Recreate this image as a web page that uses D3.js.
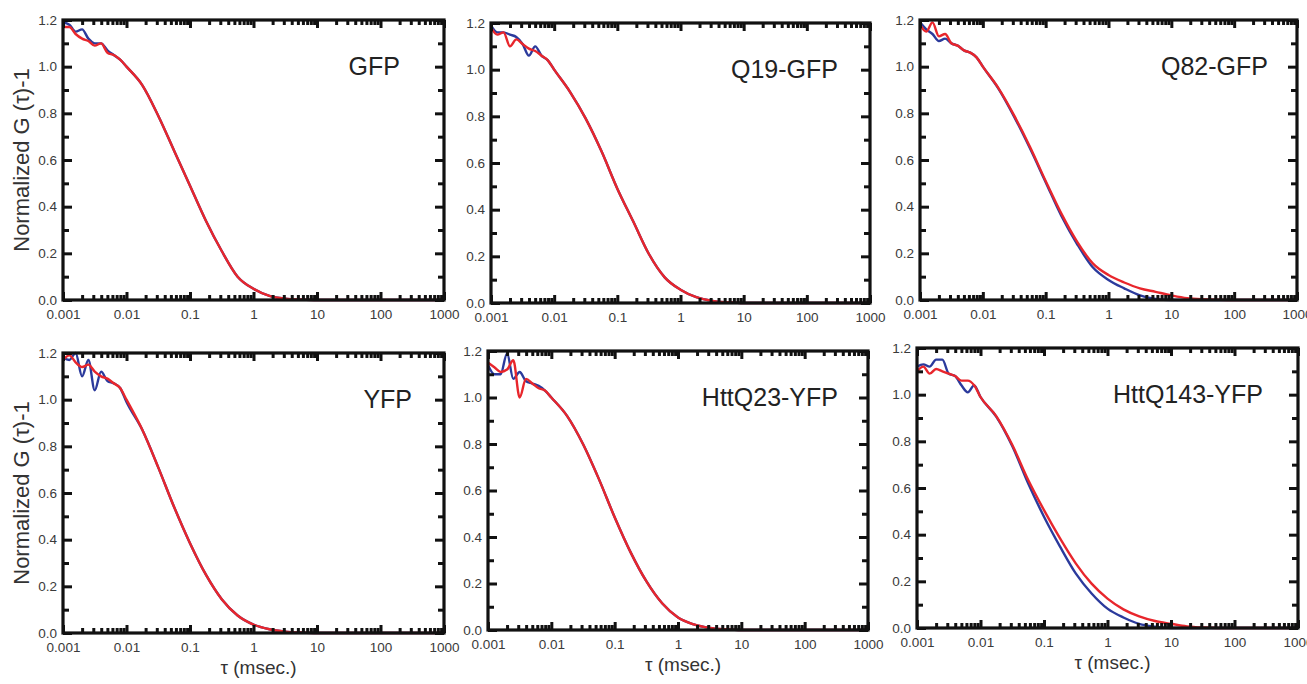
<!DOCTYPE html>
<html>
  <head>
    <title>FCS curves</title>
    <script src="https://cdnjs.cloudflare.com/ajax/libs/d3/7.8.5/d3.min.js"></script>
    <style>
      body { margin: 0; background: white; }
      text { font-family: Arial, "Liberation Sans", sans-serif; }
      .tick text { font-size: 13.5px; fill: #3a3a3a; }
    </style>
  </head>
  <body>
    <script>
      let width = 1307, height = 684;

      // lag times (msec), shared by every series
      let tau = [0.001, 0.00126, 0.00158, 0.002, 0.00251, 0.00316, 0.00398, 0.00501, 0.00631, 0.00794,
                 0.01, 0.0178, 0.0316, 0.0562, 0.1, 0.178, 0.316, 0.562, 1, 1.78, 3.16, 5.62,
                 10, 17.8, 31.6, 56.2, 100, 178, 316, 562, 1000];

      let names = ["GFP", "Q19-GFP", "Q82-GFP", "YFP", "HttQ23-YFP", "HttQ143-YFP"];

      let gfpBlue = [1.19,1.18,1.15,1.16,1.12,1.10,1.10,1.07,1.05,1.03, 1.00,0.92,0.79,0.64,0.49,0.34,0.21,0.10,0.048,0.018,0.006,0.002, 0,0,0,0,0,0,0,0,0];
      let gfpRed  = [1.17,1.17,1.14,1.12,1.11,1.09,1.10,1.06,1.05,1.03, 1.00,0.92,0.79,0.64,0.49,0.34,0.21,0.10,0.048,0.018,0.006,0.002, 0,0,0,0,0,0,0,0,0];

      let q19Blue = [1.19,1.16,1.16,1.15,1.14,1.11,1.06,1.10,1.06,1.04, 1.00,0.905,0.79,0.65,0.49,0.35,0.21,0.11,0.057,0.025,0.009,0.003, 0,0,0,0,0,0,0,0,0];
      let q19Red  = [1.18,1.15,1.16,1.10,1.13,1.11,1.09,1.08,1.06,1.04, 1.00,0.905,0.79,0.65,0.49,0.35,0.21,0.11,0.057,0.025,0.009,0.003, 0,0,0,0,0,0,0,0,0];

      let q82Blue = [1.19,1.16,1.14,1.11,1.12,1.10,1.09,1.07,1.06,1.04, 1.00,0.905,0.785,0.65,0.505,0.36,0.24,0.14,0.086,0.05,0.02,0.005, 0,0,0,0,0,0,0,0,0];
      let q82Red  = [1.18,1.15,1.19,1.13,1.14,1.10,1.09,1.07,1.06,1.04, 1.00,0.907,0.79,0.657,0.51,0.37,0.25,0.157,0.107,0.075,0.05,0.035, 0.02,0.008,0.003,0.001,0,0,0,0,0];

      let yfpBlue = [1.18,1.17,1.20,1.10,1.17,1.04,1.12,1.08,1.07,1.05, 0.99,0.87,0.71,0.54,0.385,0.25,0.145,0.075,0.036,0.016,0.006,0.002, 0,0,0,0,0,0,0,0,0];
      let yfpRed  = [1.17,1.19,1.16,1.14,1.15,1.12,1.10,1.09,1.07,1.05, 1.00,0.87,0.71,0.54,0.385,0.25,0.145,0.075,0.036,0.016,0.006,0.002, 0,0,0,0,0,0,0,0,0];

      let q23Blue = [1.14,1.10,1.10,1.19,1.08,1.11,1.07,1.06,1.05,1.03, 1.00,0.92,0.80,0.65,0.485,0.335,0.21,0.115,0.054,0.024,0.009,0.003, 0,0,0,0,0,0,0,0,0];
      let q23Red  = [1.15,1.13,1.11,1.12,1.16,1.00,1.08,1.06,1.04,1.03, 1.00,0.92,0.80,0.65,0.485,0.335,0.21,0.115,0.054,0.024,0.009,0.003, 0,0,0,0,0,0,0,0,0];

      let q143Blue = [1.12,1.13,1.12,1.15,1.15,1.09,1.08,1.04,1.01,1.04, 0.99,0.905,0.78,0.62,0.477,0.35,0.234,0.148,0.083,0.045,0.018,0.006, 0,0,0,0,0,0,0,0,0];
      let q143Red  = [1.10,1.12,1.09,1.11,1.10,1.09,1.08,1.06,1.06,1.04, 0.99,0.907,0.785,0.635,0.505,0.385,0.277,0.19,0.126,0.08,0.05,0.03, 0.018,0.007,0.002,0,0,0,0,0,0];

      let blueSeries = [gfpBlue, q19Blue, q82Blue, yfpBlue, q23Blue, q143Blue];
      let redSeries  = [gfpRed, q19Red, q82Red, yfpRed, q23Red, q143Red];

      let xTicks = [0.001, 0.01, 0.1, 1, 10, 100, 1000];
      let yTicks = [0, 0.2, 0.4, 0.6, 0.8, 1.0, 1.2];
      let yMinor = [0.1, 0.3, 0.5, 0.7, 0.9, 1.1];
      let xMinor = [];
      xTicks.slice(0, -1).forEach(function(d) {
        for (let k = 2; k < 10; k++) xMinor.push(d * k);
      });

      // panel boxes [left, top, right, bottom] and title offsets from the right edge
      let boxes = [[63, 20, 444, 300], [491, 23, 870, 303], [920, 20, 1297, 300],
                   [63, 353, 444, 633], [488, 351, 868, 630], [917, 348, 1298, 628]];
      let titleGap = [44, 32, 29, 32, 30, 35];

      let svg = d3.select("body").append("svg")
                  .attr("width", width)
                  .attr("height", height);

      boxes.forEach(function(b, i) {
        let x = d3.scaleLog().domain([0.001, 1000]).range([b[0], b[2]]);
        let y = d3.scaleLinear().domain([0, 1.2]).range([b[3], b[1]]);
        let g = svg.append("g");

        let line = d3.line()
                     .x(function(d, j) { return x(tau[j]); })
                     .y(function(d) { return y(d); })
                     .curve(d3.curveMonotoneX);

        g.append("path").attr("d", line(blueSeries[i]))
         .attr("fill", "none").attr("stroke", "#2b3a9c").attr("stroke-width", 2.4);
        g.append("path").attr("d", line(redSeries[i]))
         .attr("fill", "none").attr("stroke", "#e8262c").attr("stroke-width", 2.4);

        // inward tick marks on all four sides (axes drawn with negative tick size)
        let sides = [
          [d3.axisBottom(x).tickValues(xTicks).tickFormat(d3.format("~g")).tickSize(-8).tickPadding(9), 0, b[3]],
          [d3.axisBottom(x).tickValues(xMinor).tickFormat("").tickSize(-5), 0, b[3]],
          [d3.axisTop(x).tickValues(xTicks).tickFormat("").tickSize(-8), 0, b[1]],
          [d3.axisTop(x).tickValues(xMinor).tickFormat("").tickSize(-5), 0, b[1]],
          [d3.axisLeft(y).tickValues(yTicks).tickFormat(d3.format(".1f")).tickSize(-9).tickPadding(6), b[0], 0],
          [d3.axisLeft(y).tickValues(yMinor).tickFormat("").tickSize(-6), b[0], 0],
          [d3.axisRight(y).tickValues(yTicks).tickFormat("").tickSize(-9), b[2], 0],
          [d3.axisRight(y).tickValues(yMinor).tickFormat("").tickSize(-6), b[2], 0]
        ];
        sides.forEach(function(s) {
          g.append("g").attr("transform", `translate(${s[1]},${s[2]})`).call(s[0]);
        });
        g.selectAll(".domain").remove();
        g.selectAll(".tick line").attr("stroke", "#111").attr("stroke-width", 3);

        g.append("rect")
         .attr("x", b[0]).attr("y", b[1])
         .attr("width", b[2] - b[0]).attr("height", b[3] - b[1])
         .attr("fill", "none").attr("stroke", "#111").attr("stroke-width", 3.2);

        g.append("text")
         .attr("x", b[2] - titleGap[i]).attr("y", b[1] + 55)
         .attr("text-anchor", "end")
         .style("font-size", "25px").style("fill", "#222")
         .text(names[i]);

        if (i % 3 == 0) {
          g.append("text")
           .attr("transform", `translate(29,${(b[1] + b[3]) / 2}) rotate(-90)`)
           .attr("text-anchor", "middle")
           .style("font-size", "22px").style("fill", "#333")
           .text("Normalized G (τ)-1");
        }
        if (i >= 3) {
          g.append("text")
           .attr("x", (b[0] + b[2]) / 2 + 5).attr("y", b[3] + 41)
           .attr("text-anchor", "middle")
           .style("font-size", "19px").style("fill", "#333")
           .text("τ (msec.)");
        }
      });
    </script>
  </body>
</html>
